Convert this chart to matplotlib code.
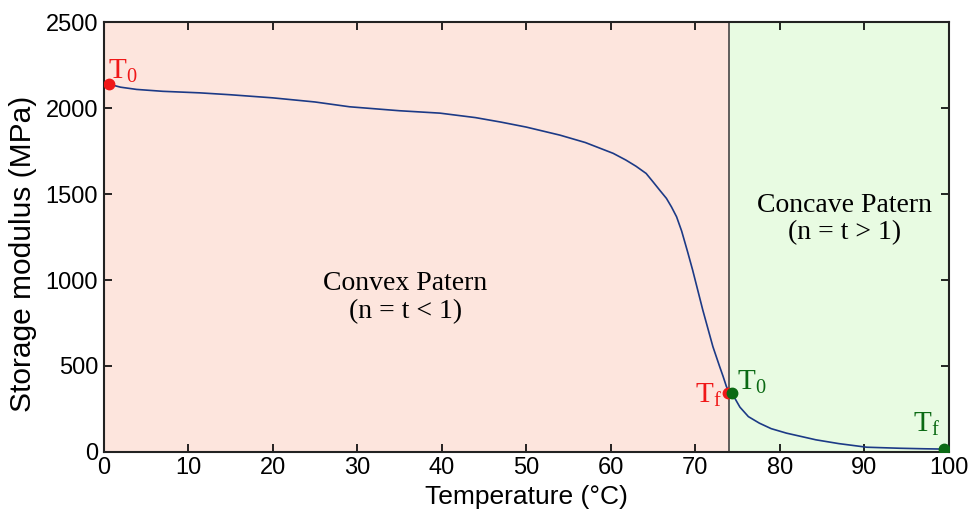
import matplotlib.pyplot as plt

# storage modulus curve
temp = [0.6, 2, 3.9, 7, 11.4, 15, 20, 25, 29.1, 35, 39.8, 44, 47, 50, 54, 57, 60.3, 61.8,
        63.0, 64.2, 65.0, 65.8, 66.6, 67.2, 67.8, 68.4, 69.1, 69.7, 70.3, 70.9, 71.5, 72.1,
        72.9, 73.3, 73.7, 74.1, 74.6, 75.3, 76.3, 77.6, 79, 80.8, 84.3, 87, 90.3, 94.2,
        97, 99.5]
modulus = [2140, 2122, 2109, 2098, 2089, 2078, 2060, 2036, 2008, 1985, 1971, 1945, 1919,
           1890, 1843, 1800, 1737, 1698, 1662, 1620, 1572, 1523, 1475, 1425, 1368, 1285,
           1165, 1058, 942, 826, 719, 612, 496, 440, 380, 343, 320, 260, 205, 167, 135,
           109, 70, 48, 27, 21, 18, 16]

t_split = 74
x_ticks = [0, 10, 20, 30, 40, 50, 60, 70, 80, 90, 100]
y_ticks = [0, 500, 1000, 1500, 2000, 2500]

# points marking start / end of each pattern
red_pts = [(0.6, 2140), (73.85, 343)]
green_pts = [(74.4, 343), (99.5, 16)]

plt.rcParams['font.family'] = ['Liberation Sans', 'DejaVu Sans']

fig = plt.figure(figsize=(9.69, 5.17), dpi=100)
ax = fig.add_axes([0.107, 0.126, 0.872, 0.831])

ax.axvspan(0, t_split, color='#fde5dd', zorder=0, lw=0)
ax.axvspan(t_split, 100, color='#e8fbe2', zorder=0, lw=0)
ax.axvline(t_split, color='#454545', lw=1.2, zorder=1)

ax.plot(temp, modulus, color='#1c3a86', lw=1.2, zorder=2)

ax.plot([p[0] for p in red_pts], [p[1] for p in red_pts], 'o', color='#f01818',
        ms=7.5, zorder=3)
ax.plot([p[0] for p in green_pts], [p[1] for p in green_pts], 'o', color='#0b6a14',
        ms=7.5, zorder=4)

serif = 'Liberation Serif'
ax.text(0.5, 2172, r'$\mathregular{T_0}$', color='#f01818', fontsize=21,
        family=serif, ha='left', va='baseline')
ax.text(73.1, 285, r'$\mathregular{T_f}$', color='#f01818', fontsize=21,
        family=serif, ha='right', va='baseline')
ax.text(75.0, 360, r'$\mathregular{T_0}$', color='#0b6a14', fontsize=21,
        family=serif, ha='left', va='baseline')
ax.text(98.9, 116, r'$\mathregular{T_f}$', color='#0b6a14', fontsize=21,
        family=serif, ha='right', va='baseline')

ax.text(35.7, 900, 'Convex Patern\n(n = t < 1)', fontsize=20, family=serif,
        ha='center', va='center', linespacing=1.15)
ax.text(87.7, 1355, 'Concave Patern\n(n = t > 1)', fontsize=20, family=serif,
        ha='center', va='center', linespacing=1.15)

ax.set_xlim(0, 100)
ax.set_ylim(0, 2500)
ax.set_xticks(x_ticks)
ax.set_yticks(y_ticks)
ax.tick_params(direction='in', length=6, width=1.2, top=True, right=True,
               labelsize=17, pad=4)
for s in ax.spines.values():
    s.set_linewidth(1.5)
    s.set_color('#222222')

ax.set_xlabel('Temperature (°C)', fontsize=19, labelpad=4)
ax.set_ylabel('Storage modulus (MPa)', fontsize=21.5)
ax.yaxis.set_label_coords(-0.079, 0.46)

fig.savefig('out.png', dpi=100)
